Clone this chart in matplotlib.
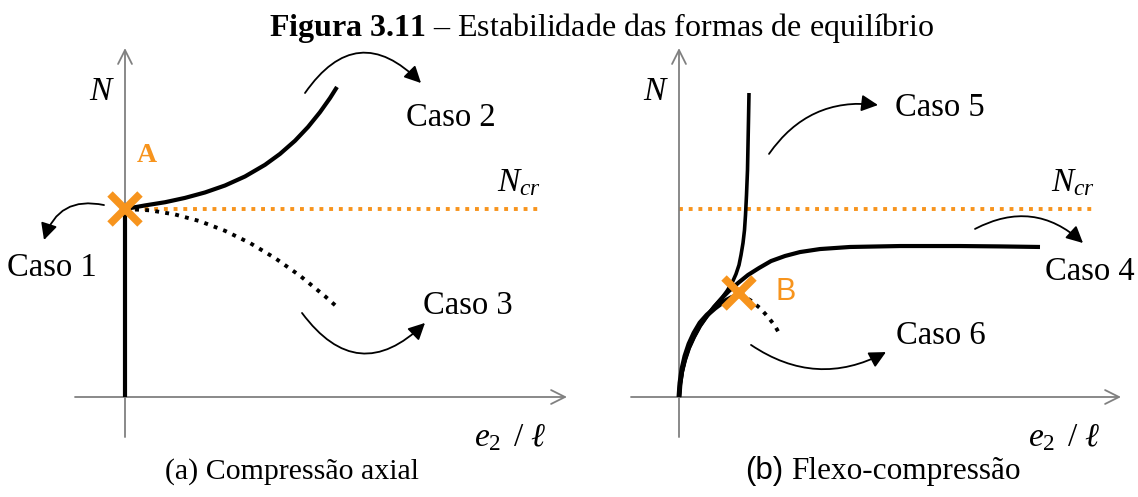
import matplotlib.pyplot as plt
from matplotlib.patches import FancyArrowPatch

plt.rcParams['font.family'] = ['Liberation Serif', 'DejaVu Serif']
plt.rcParams['mathtext.fontset'] = 'custom'
plt.rcParams['mathtext.it'] = 'Liberation Serif:italic'
plt.rcParams['mathtext.rm'] = 'Liberation Serif'
plt.rcParams['mathtext.bf'] = 'Liberation Serif:bold'

ORANGE = '#F7941D'
GREY = '#808080'

# equilibrium paths, x = e2/l, y = N/Ncr
# (a) axial compression
caso1_x = [0.0, 0.0]
caso1_y = [0.0, 1.0]
caso2_x = [0.0, 0.2, 0.4, 0.6, 0.8, 1.0, 1.2, 1.4, 1.55, 1.70, 1.83, 1.95, 2.05, 2.12]
caso2_y = [1.0, 1.019, 1.036, 1.059, 1.088, 1.125, 1.173, 1.235, 1.293, 1.363, 1.436, 1.515, 1.590, 1.649]
caso3_x = [0.0, 0.25, 0.5, 0.75, 1.0, 1.25, 1.5, 1.75, 2.0, 2.11]
caso3_y = [1.0, 0.993, 0.971, 0.935, 0.884, 0.819, 0.739, 0.645, 0.536, 0.484]
ponto_a = (0.0, 1.0)

# (b) bending + compression
caso5_x = [0.0, 0.01, 0.03, 0.06, 0.10, 0.15, 0.21, 0.28, 0.35, 0.42, 0.48, 0.53,
           0.57, 0.60, 0.62, 0.64, 0.655, 0.665, 0.675, 0.685, 0.69, 0.695, 0.70]
caso5_y = [0.0, 0.064, 0.133, 0.197, 0.261, 0.319, 0.378, 0.431, 0.479, 0.521, 0.564, 0.606,
           0.654, 0.702, 0.755, 0.819, 0.888, 0.968, 1.074, 1.207, 1.340, 1.473, 1.617]
caso4_x = [0.0, 0.01, 0.03, 0.06, 0.10, 0.15, 0.21, 0.28, 0.35, 0.42, 0.50, 0.59,
           0.69, 0.80, 0.92, 1.06, 1.21, 1.41, 1.71, 2.21, 2.81, 3.21, 3.61]
caso4_y = [0.0, 0.064, 0.133, 0.197, 0.261, 0.319, 0.378, 0.431, 0.479, 0.521, 0.564, 0.606,
           0.649, 0.686, 0.723, 0.750, 0.771, 0.787, 0.798, 0.803, 0.803, 0.801, 0.798]
caso6_x = [0.0, 0.01, 0.03, 0.06, 0.10, 0.15, 0.21, 0.28, 0.36, 0.44, 0.52, 0.60]
caso6_y = [0.0, 0.074, 0.149, 0.218, 0.282, 0.340, 0.394, 0.436, 0.473, 0.505, 0.527, 0.543]
caso6_inst_x = [0.60, 0.71, 0.81, 0.89, 0.96, 1.00]
caso6_inst_y = [0.543, 0.516, 0.473, 0.426, 0.378, 0.340]
ponto_b = (0.60, 0.553)

n_cr = 1.0
n_cr_fim = 4.18

fig = plt.figure(figsize=(11.38, 4.97), dpi=100)
ax_a = fig.add_axes([0, 0, 569 / 1138, 1])
ax_b = fig.add_axes([569 / 1138, 0, 569 / 1138, 1])

# 1 unit of e2/l = 100 px, 1 unit of N/Ncr = 188 px
ax_a.set_xlim(-1.25, 4.44)
ax_b.set_xlim(-1.10, 4.59)
for ax in (ax_a, ax_b):
    ax.set_ylim(-100 / 188, 397 / 188)
    ax.axis('off')


def eixos(ax, x0, x1):
    for ini, fim in (((x0, 0), (x1, 0)), ((0, -0.213), (0, 1.856))):
        ax.annotate('', xy=fim, xytext=ini,
                    arrowprops=dict(arrowstyle='->,head_length=1.0,head_width=0.5',
                                    color=GREY, lw=1.3, shrinkA=0, shrinkB=0))
    ax.text(-0.25, 1.622, 'N', fontsize=24, style='italic', ha='center', va='center')
    ax.text(3.85, -0.218, r'$e_2\ \,/\ \ell$', fontsize=24, ha='center', va='center')
    ax.plot([0, n_cr_fim], [n_cr, n_cr], color=ORANGE, lw=2.8,
            linestyle=(0, (1, 1.5)), dash_capstyle='butt', zorder=2)
    ax.text(n_cr_fim - 0.24, n_cr + 0.14, r'$N_{cr}$', fontsize=24,
            ha='center', va='center')


def seta(ax, p0, p1, rad):
    ax.add_patch(FancyArrowPatch(p0, p1, connectionstyle=f'arc3,rad={rad}',
                                 arrowstyle='-|>,head_length=10,head_width=5',
                                 color='black', lw=1.3, shrinkA=0, shrinkB=0))


# (a)
eixos(ax_a, -0.50, 4.42)
ax_a.plot(caso1_x, caso1_y, color='black', lw=3, solid_capstyle='butt', zorder=3)
ax_a.plot(caso2_x, caso2_y, color='black', lw=3, solid_capstyle='butt', zorder=3)
ax_a.plot(caso3_x, caso3_y, color='black', lw=2.8, linestyle=(0, (1, 1.6)),
          dash_capstyle='butt', zorder=3)
ax_a.plot(*ponto_a, marker='x', color=ORANGE, ms=21, mew=5.5, zorder=4)
ax_a.text(0.22, 1.287, 'A', fontsize=20, weight='bold', color=ORANGE, ha='center', va='center')
seta(ax_a, (-0.21, 1.021), (-0.81, 0.835), 0.45)
seta(ax_a, (1.80, 1.617), (2.96, 1.670), -0.6)
seta(ax_a, (1.77, 0.447), (3.00, 0.394), 0.57)
ax_a.text(-0.73, 0.686, 'Caso 1', fontsize=23.5, ha='center', va='center')
ax_a.text(3.26, 1.484, 'Caso 2', fontsize=23.5, ha='center', va='center')
ax_a.text(3.43, 0.484, 'Caso 3', fontsize=23.5, ha='center', va='center')
ax_a.text(1.67, -0.395, '(a) Compressão axial', fontsize=21.5, ha='center', va='center')

# (b)
eixos(ax_b, -0.48, 4.42)
ax_b.plot(caso5_x, caso5_y, color='black', lw=2.6, solid_capstyle='butt', zorder=3)
ax_b.plot(caso4_x, caso4_y, color='black', lw=3, solid_capstyle='butt', zorder=3)
ax_b.plot(caso6_x, caso6_y, color='black', lw=3.6, solid_capstyle='butt', zorder=3)
ax_b.plot(caso6_inst_x, caso6_inst_y, color='black', lw=2.8, linestyle=(0, (1, 1.6)),
          dash_capstyle='butt', zorder=3)
ax_b.plot(*ponto_b, marker='x', color=ORANGE, ms=21, mew=5.5, zorder=4)
ax_b.text(1.07, 0.559, 'B', fontsize=22, color=ORANGE, family='Liberation Sans',
          ha='center', va='center')
seta(ax_b, (0.90, 1.293), (1.99, 1.553), -0.3)
seta(ax_b, (2.96, 0.894), (4.04, 0.819), -0.35)
seta(ax_b, (0.72, 0.277), (2.07, 0.239), 0.3)
ax_b.text(2.61, 1.537, 'Caso 5', fontsize=23.5, ha='center', va='center')
ax_b.text(4.11, 0.665, 'Caso 4', fontsize=23.5, ha='center', va='center')
ax_b.text(2.62, 0.324, 'Caso 6', fontsize=23.5, ha='center', va='center')
ax_b.text(0.66, -0.395, '(b)', fontsize=22.5, family='Liberation Sans', ha='left', va='center')
ax_b.text(1.12, -0.395, 'Flexo-compressão', fontsize=22.5, ha='left', va='center')

fig.text(602 / 1138, 1 - 28 / 497,
         r'$\mathbf{Figura\ 3.11}$ – Estabilidade das formas de equilíbrio',
         fontsize=23, ha='center', va='center')

fig.savefig('out.png', dpi=100)
